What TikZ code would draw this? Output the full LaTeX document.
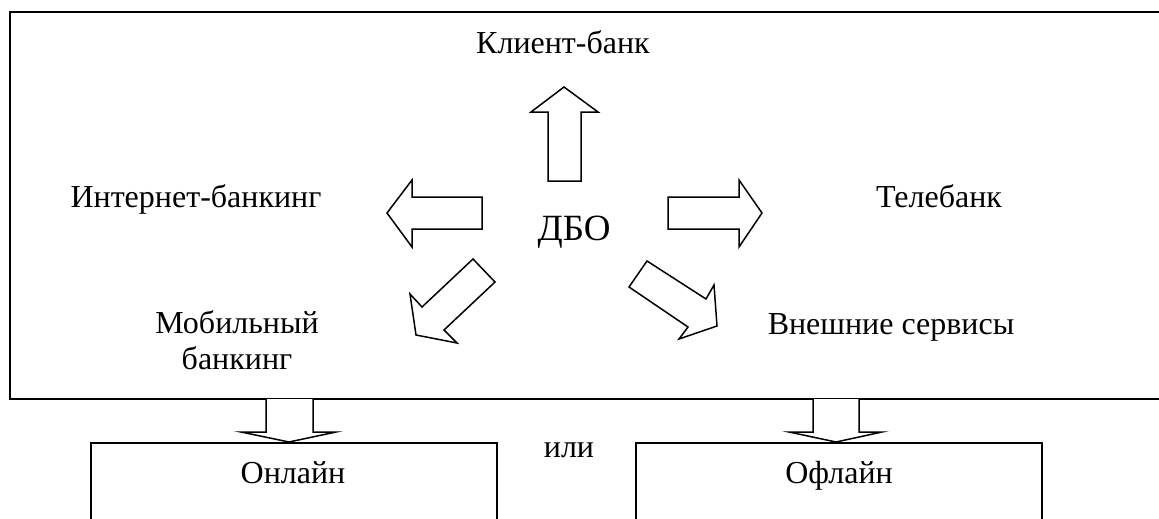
\documentclass[tikz,border=0pt]{standalone}
\usepackage{fontspec}
\setmainfont{Liberation Serif}
\tikzset{
  lbl/.style={anchor=base, inner sep=0pt, font=\fontsize{32}{38}\selectfont},
  big/.style={anchor=base, inner sep=0pt, font=\fontsize{37}{44}\selectfont},
  blockarrow/.style={draw=black, line width=1.5pt, fill=white, line join=miter},
  mainbox/.style={draw=black, line width=2.2pt},
  subbox/.style={draw=black, line width=1.8pt}
}
\begin{document}
\begin{tikzpicture}[x=1pt, y=-1pt]
\useasboundingbox (0,0) rectangle (1159,519);
\clip (0,0) rectangle (1159,519);
\fill[white] (0,0) rectangle (1159,519);
% main frame
\draw[mainbox] (10,12) rectangle (1175,399);
% lower boxes
\draw[subbox] (91,530) -- (91,443) -- (497,443) -- (497,530);
\draw[subbox] (636,530) -- (636,443) -- (1042,443) -- (1042,530);
% texts
\node[lbl] (client) at (563,53) {Клиент-банк};
\node[lbl] (inet) at (196,207) {Интернет-банкинг};
\node[lbl] (tele) at (939,207) {Телебанк};
\node[big] (dbo) at (574,240) {ДБО};
\node[lbl] (mob1) at (237,333) {Мобильный};
\node[lbl] (mob2) at (237,369) {банкинг};
\node[lbl] (ext) at (891,334) {Внешние сервисы};
\node[lbl] (ili) at (569,457) {или};
\node[lbl] (online) at (293,483) {Онлайн};
\node[lbl] (offline) at (839,483) {Офлайн};
% up arrow
\draw[blockarrow] (548,181) -- (548,112) -- (531,112) -- (564,87) -- (598,112) -- (581,112) -- (581,181) -- cycle;
% left arrow
\draw[blockarrow] (482,197) -- (412,197) -- (412,180) -- (387,213) -- (412,247) -- (412,229) -- (482,229) -- cycle;
% right arrow
\draw[blockarrow] (668,197) -- (739,197) -- (739,180) -- (762,213) -- (739,247) -- (739,229) -- (668,229) -- cycle;
% down-left arrow
\draw[blockarrow] (473,259) -- (495,282) -- (444,330) -- (457,343) -- (416,335) -- (410,294) -- (422,307) -- cycle;
% down-right arrow
\draw[blockarrow] (647,261) -- (706,299) -- (714,285) -- (717,326) -- (679,339) -- (688,327) -- (629,287) -- cycle;
% down arrows to boxes
\draw[blockarrow] (266,399) -- (266,432) -- (241,432) -- (289,442) -- (336,432) -- (313,432) -- (313,399);
\draw[blockarrow] (813,399) -- (813,432) -- (789,432) -- (836,442) -- (882,432) -- (859,432) -- (859,399);
\end{tikzpicture}
\end{document}
